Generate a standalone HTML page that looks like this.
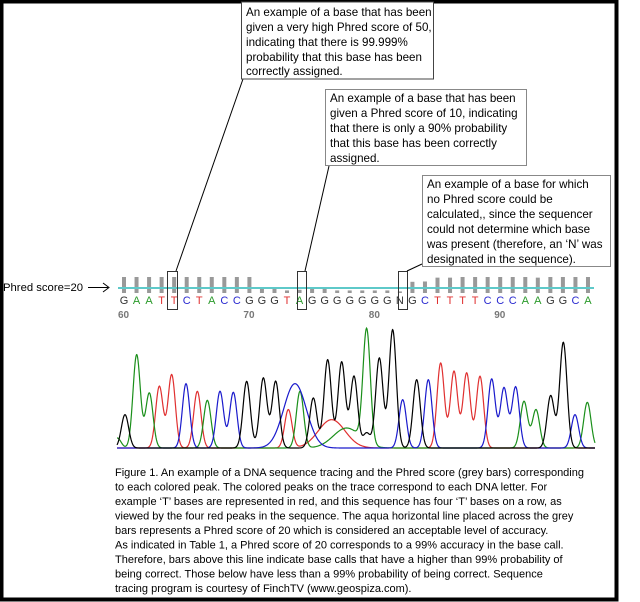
<!DOCTYPE html>
<html><head><meta charset="utf-8"><style>
html,body{margin:0;padding:0;background:#fff;}
svg{display:block;}
text{font-family:"Liberation Sans",sans-serif;}
</style></head><body>
<svg width="640" height="602" viewBox="0 0 640 602">
<rect x="1.5" y="1.5" width="615" height="598" fill="#fff" stroke="#000" stroke-width="4"/>
<g id="bars"></g>
<line x1="118" y1="288" x2="594" y2="288" stroke="#5ec9c9" stroke-width="2"/>
<g id="letters"></g>
<g id="nums"></g>
<g id="trace"></g>

<text x="3" y="291" font-size="11" fill="#000" textLength="80" lengthAdjust="spacingAndGlyphs">Phred score=20</text>
<g>
<line x1="88" y1="287.5" x2="108" y2="287.5" stroke="#000" stroke-width="1"/>
<polyline points="103,283 109,287.5 103,292" fill="none" stroke="#000" stroke-width="1"/>
</g>

<rect x="167.5" y="271.5" width="10" height="38" fill="none" stroke="#333"/>
<rect x="297.5" y="271.5" width="9" height="38" fill="none" stroke="#333"/>
<rect x="398.5" y="271.5" width="9" height="38" fill="none" stroke="#333"/>
<line x1="243" y1="79" x2="176" y2="271" stroke="#000"/>
<line x1="329" y1="166" x2="305" y2="271" stroke="#000"/>
<line x1="422" y1="264" x2="407" y2="271" stroke="#000"/>

<g>
<rect x="241.5" y="2" width="192" height="77" fill="#fff" stroke="#444"/>
<text font-size="11.6" fill="#000">
<tspan x="246" y="16">An example of a base that has been</tspan>
<tspan x="246" y="31">given a very high Phred score of 50,</tspan>
<tspan x="246" y="46">indicating that there is 99.999%</tspan>
<tspan x="246" y="61">probability that this base has been</tspan>
<tspan x="246" y="75">correctly assigned.</tspan>
</text></g>
<g>
<rect x="325.5" y="89.5" width="201" height="76" fill="#fff" stroke="#888"/>
<text font-size="11.6" fill="#000">
<tspan x="330" y="102">An example of a base that has been</tspan>
<tspan x="330" y="117">given a Phred score of 10, indicating</tspan>
<tspan x="330" y="132">that there is only a 90% probability</tspan>
<tspan x="330" y="147">that this base has been correctly</tspan>
<tspan x="330" y="162">assigned.</tspan>
</text></g>
<g>
<rect x="422.5" y="175.5" width="188" height="91" fill="#fff" stroke="#888"/>
<text font-size="11.6" fill="#000">
<tspan x="427" y="188">An example of a base for which</tspan>
<tspan x="427" y="203">no Phred score could be</tspan>
<tspan x="427" y="218">calculated,, since the sequencer</tspan>
<tspan x="427" y="233">could not determine which base</tspan>
<tspan x="427" y="248">was present (therefore, an ‘N’ was</tspan>
<tspan x="427" y="263">designated in the sequence).</tspan>
</text></g>

<text font-size="11" fill="#000">
<tspan x="115" y="476">Figure 1. An example of a DNA sequence tracing and the Phred score (grey bars) corresponding</tspan>
<tspan x="115" y="490.5">to each colored peak.  The colored peaks on the trace correspond to each DNA letter.  For</tspan>
<tspan x="115" y="505">example ‘T’ bases are represented in red, and this sequence has four ‘T’ bases on a row, as</tspan>
<tspan x="115" y="519.5">viewed by the four red peaks in the sequence.  The aqua horizontal line placed across the grey</tspan>
<tspan x="115" y="534">bars represents a Phred score of 20 which is considered an acceptable level of accuracy.</tspan>
<tspan x="115" y="548.5">As indicated in Table 1,  a Phred score of 20 corresponds to a 99% accuracy in the base call.</tspan>
<tspan x="115" y="563">Therefore, bars above this line indicate base calls that have a higher than 99% probability of</tspan>
<tspan x="115" y="577.5">being correct. Those below have less than a 99% probability of being correct.  Sequence</tspan>
<tspan x="115" y="592">tracing program is courtesy of FinchTV (www.geospiza.com).</tspan>
</text>
</svg>
<script>
const bases = "GAATTCTACCGGGTAGGGGGGGNGCTTTTCCCAAGGCA".split("");
const phred = [50,50,50,50,50,50,50,50,50,50,50,17,17,8,10,17,17,8,8,8,8,8,5,35,36,48,48,50,50,50,50,50,50,48,50,50,50,50];
const posLabels = ["60","70","80","90"];
const posIndex = [0,10,20,30];
const blackPeaks = [[75,100],[440,200],[490,210],[527,200],[640,150],[683,265],[725,258],[762,215],[800,45],[838,270],[878,355],[950,205],[1352,157],[1390,317]];
const greenPeaks = [[52,30],[110,280],[148,165],[322,143],[600,170],[740,60],[800,340],[1272,140],[1308,115],[1462,137]];
const redPeaks = [[178,185],[215,220],[292,170],[565,115],[695,85],[1022,255],[1062,230],[1100,225],[1140,215]];
const bluePeaks = [[258,193],[360,170],[400,167],[585,193],[908,145],[985,205],[1175,207],[1212,180],[1247,183],[1425,100]];
const broadWidths = {"740":40,"695":40,"585":34};

const NS="http://www.w3.org/2000/svg";
const xBase = i => 124 + i*12.54;
const yQ = q => 293 - q*0.32;
const colorOf = {G:"#333",A:"#2a9a2a",T:"#e03030",C:"#2a2ad0",N:"#333"};
const bars=document.getElementById("bars"), letters=document.getElementById("letters"), nums=document.getElementById("nums"), trace=document.getElementById("trace");
bases.forEach((b,i)=>{
  const r=document.createElementNS(NS,"rect");
  r.setAttribute("x",xBase(i)-2); r.setAttribute("width",4);
  r.setAttribute("y",yQ(phred[i])); r.setAttribute("height",293-yQ(phred[i]));
  r.setAttribute("fill","#999");
  
  
  bars.appendChild(r);
  const t=document.createElementNS(NS,"text");
  t.setAttribute("x",xBase(i)); t.setAttribute("y",304); t.setAttribute("text-anchor","middle");
  t.setAttribute("font-size","11"); t.setAttribute("fill",colorOf[b]); t.textContent=b;
  
  
  letters.appendChild(t);
});
posLabels.forEach((l,k)=>{
  const t=document.createElementNS(NS,"text");
  t.setAttribute("x",xBase(posIndex[k])-6); t.setAttribute("y",318);
  t.setAttribute("font-size","10"); t.setAttribute("font-weight","bold"); t.setAttribute("fill","#777"); t.textContent=l;
  
  
  nums.appendChild(t);
});
const xT = s => 100 + s/3;
const yT = a => 448 - a/3;
function draw(peaks,color){
  let d="";
  for(let px=117; px<=595; px+=0.5){
    const s=(px-100)*3; let v=0;
    peaks.forEach(p=>{const sg=broadWidths[String(p[0])]||11; v+=p[1]*Math.exp(-((s-p[0])**2)/(2*sg*sg));});
    d+=(d?"L":"M")+px.toFixed(1)+","+yT(v).toFixed(2);
  }
  const path=document.createElementNS(NS,"path");
  path.setAttribute("d",d); path.setAttribute("fill","none"); path.setAttribute("stroke",color); path.setAttribute("stroke-width","1.2");
  
  
  trace.appendChild(path);
}
draw(redPeaks,"#e03030");
draw(greenPeaks,"#1a8f1a");
draw(bluePeaks,"#1a1acc");
draw(blackPeaks,"#000");
</script>
</body></html>
